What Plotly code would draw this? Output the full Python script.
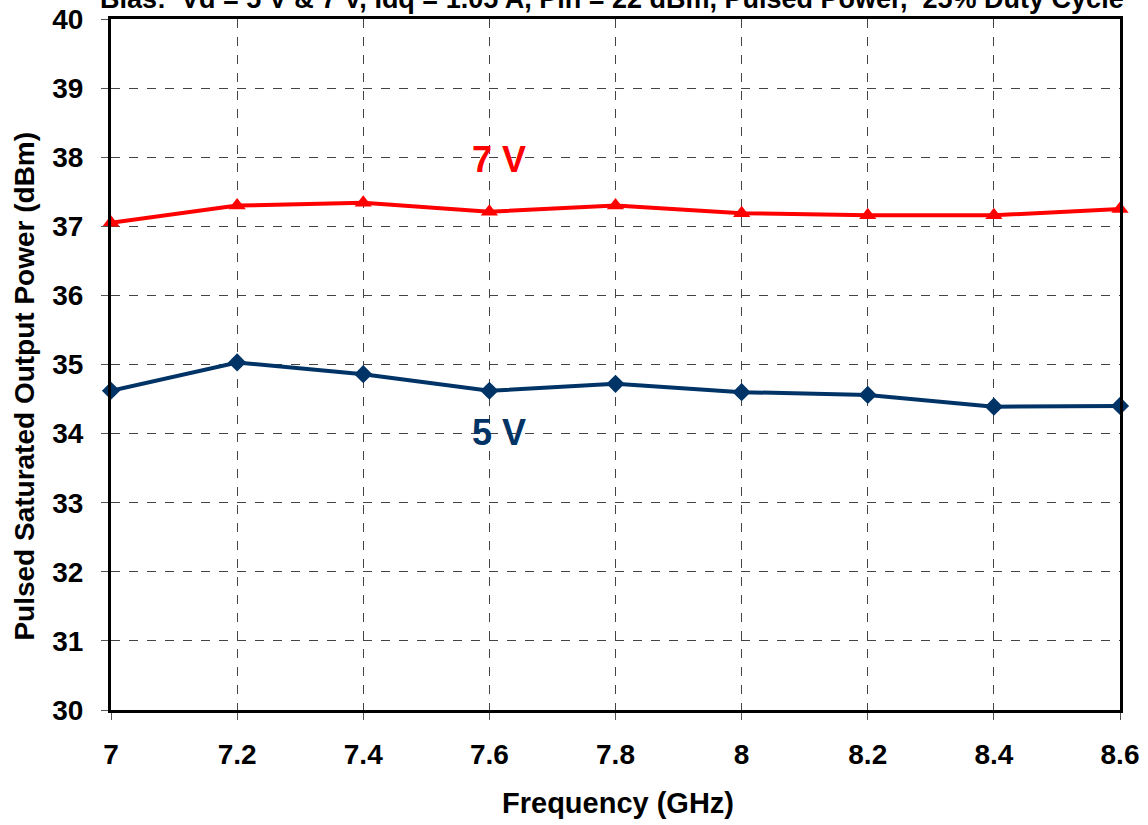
import plotly.graph_objects as go

freq = [7.0, 7.2, 7.4, 7.6, 7.8, 8.0, 8.2, 8.4, 8.6]
psat_7v = [37.05, 37.30, 37.34, 37.21, 37.30, 37.19, 37.16, 37.16, 37.25]
psat_5v = [34.62, 35.03, 34.86, 34.62, 34.72, 34.60, 34.56, 34.39, 34.40]
x_ticks = [7.0, 7.2, 7.4, 7.6, 7.8, 8.0, 8.2, 8.4, 8.6]
x_tick_text = ["7", "7.2", "7.4", "7.6", "7.8", "8", "8.2", "8.4", "8.6"]
y_ticks = list(range(30, 41))

RED = "#FF0000"
NAVY = "#003366"
FONT = "Liberation Sans, Arial, sans-serif"

fig = go.Figure()
fig.add_trace(go.Scatter(x=freq, y=psat_7v, mode="lines+markers", name="7 V",
                         line=dict(color=RED, width=4),
                         marker=dict(symbol="triangle-up", size=15, color=RED),
                         cliponaxis=False))
fig.add_trace(go.Scatter(x=freq, y=psat_5v, mode="lines+markers", name="5 V",
                         line=dict(color=NAVY, width=4),
                         marker=dict(symbol="diamond", size=14, color=NAVY),
                         cliponaxis=False))

axis_common = dict(showline=True, linecolor="black", linewidth=3, mirror=True,
                   showgrid=True, gridcolor="#444444", gridwidth=1, griddash="dash",
                   ticks="outside", ticklen=7, tickcolor="#555555", tickwidth=1,
                   zeroline=False, automargin=False,
                   tickfont=dict(family=FONT, size=28, color="black", weight="bold"))

fig.update_layout(
    width=1148, height=825,
    margin=dict(l=111, r=28, t=19, b=115),
    paper_bgcolor="white", plot_bgcolor="white",
    showlegend=False,
    font=dict(family=FONT, color="black"),
    xaxis=dict(range=[7.0, 8.6], tickvals=x_ticks, ticktext=x_tick_text,
               ticklabelstandoff=10, **axis_common),
    yaxis=dict(range=[30, 40], tickvals=y_ticks, ticklabelstandoff=12,
               **axis_common),
)

fig.add_annotation(xref="paper", yref="paper", x=0.5, y=1, yanchor="middle", yshift=20, xshift=-4,
                   text="<b>Bias:  Vd = 5 V &amp; 7 V, Idq = 1.05 A, Pin = 22 dBm, Pulsed Power,  25% Duty Cycle</b>",
                   showarrow=False, font=dict(family=FONT, size=27, color="black"))
fig.add_annotation(xref="paper", yref="paper", x=0.5, y=0, yanchor="middle", yshift=-93, xshift=2,
                   text="<b>Frequency (GHz)</b>", showarrow=False,
                   font=dict(family=FONT, size=29, color="black"))
fig.add_annotation(xref="paper", yref="paper", x=0, y=0.468, xanchor="center", yanchor="middle",
                   xshift=-86, textangle=-90,
                   text="<b>Pulsed Saturated Output Power (dBm)</b>", showarrow=False,
                   font=dict(family=FONT, size=28, color="black"))
fig.add_annotation(x=7.6, y=37.96, xref="x", yref="y", text="<b>7 V</b>", showarrow=False,
                   xanchor="center", yanchor="middle", xshift=10, font=dict(family=FONT, size=36, color=RED))
fig.add_annotation(x=7.6, y=34.02, xref="x", yref="y", text="<b>5 V</b>", showarrow=False,
                   xanchor="center", yanchor="middle", xshift=10, font=dict(family=FONT, size=36, color=NAVY))

fig.write_html("out.html", config={"displayModeBar": False},
               post_script="document.body.style.margin='0';")
